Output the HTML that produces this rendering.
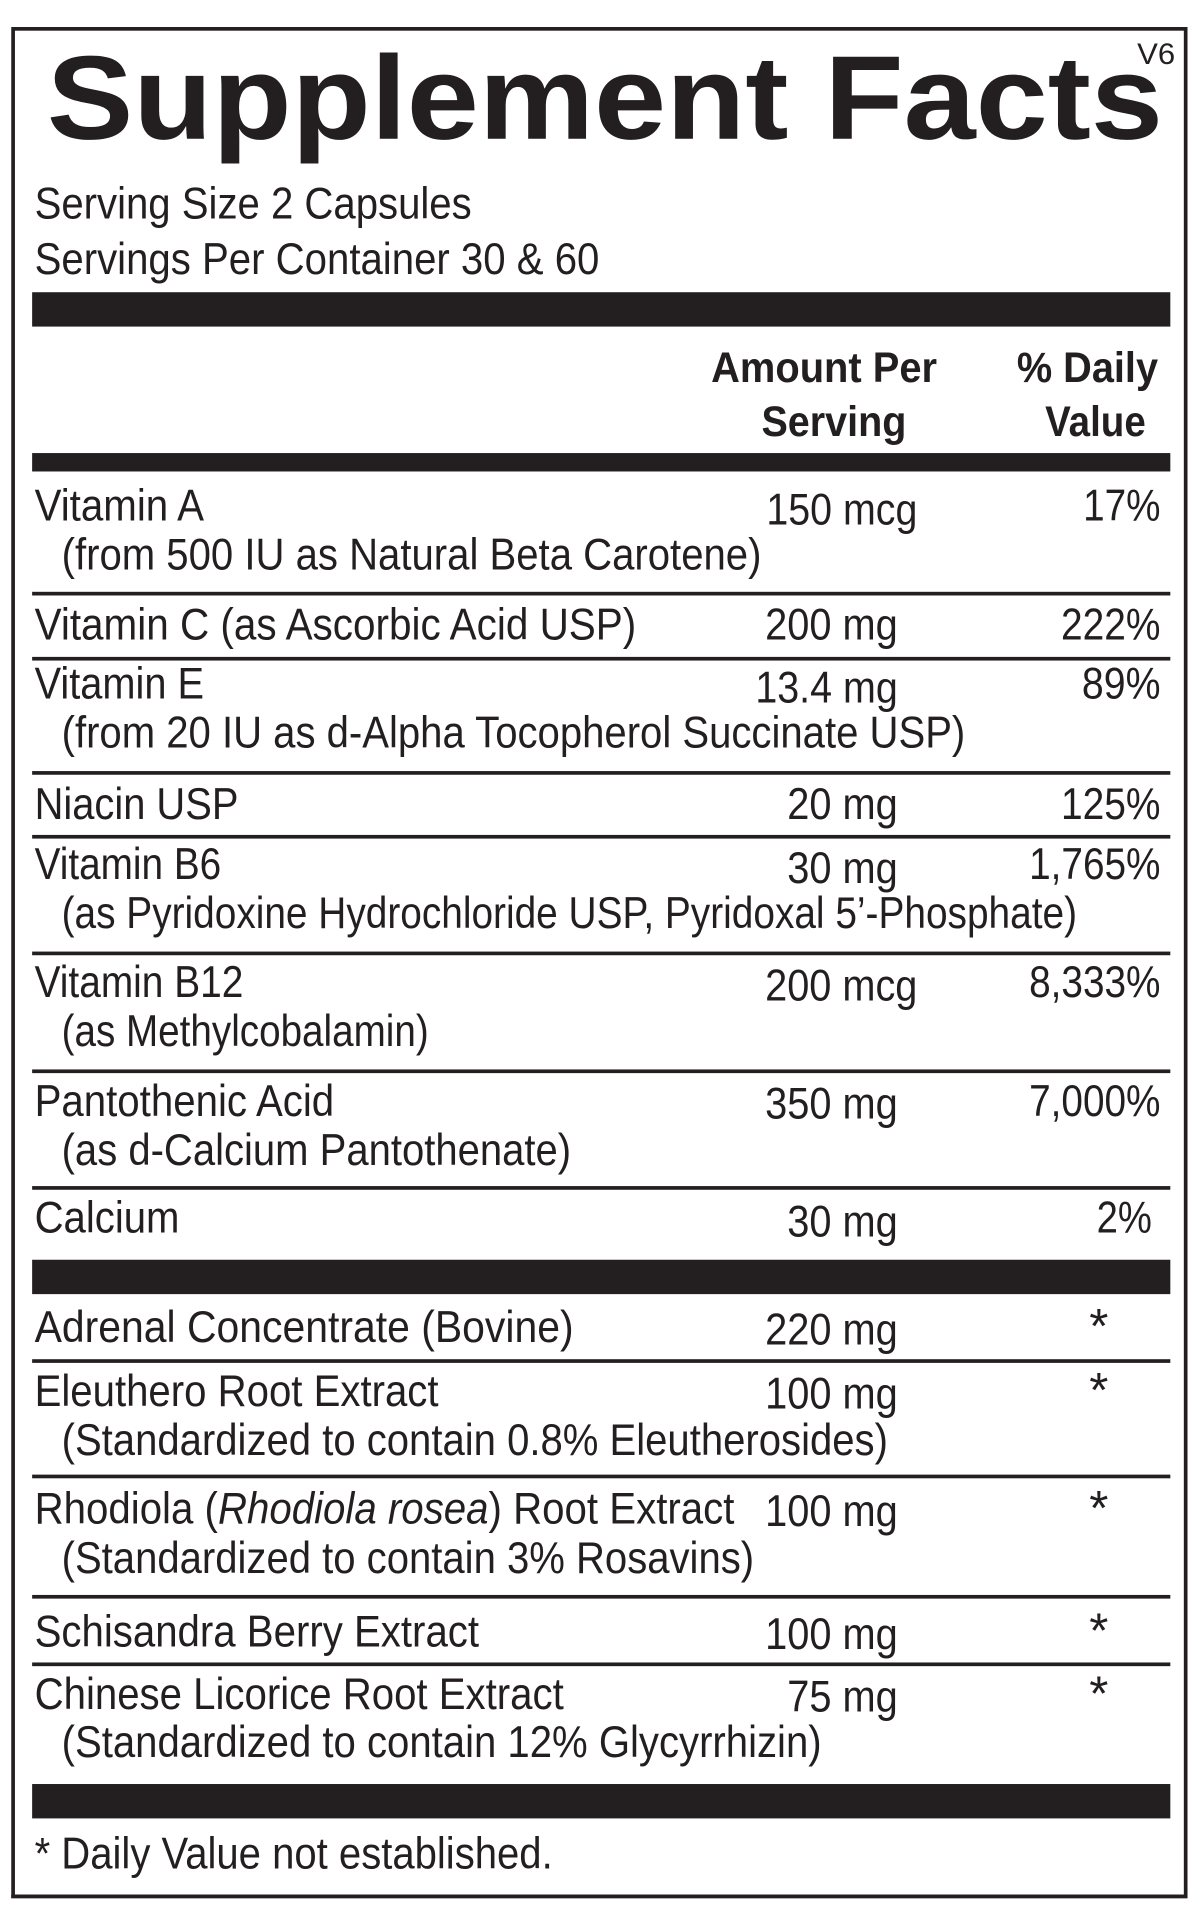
<!DOCTYPE html>
<html><head><meta charset="utf-8"><style>html,body{margin:0;padding:0;background:#fff}svg{display:block}</style></head>
<body>
<svg width="1200" height="1924" viewBox="0 0 977 1567" xmlns="http://www.w3.org/2000/svg" font-family="Liberation Sans, Arial, sans-serif" fill="#231f20">
<rect x="0" y="0" width="977" height="1567" fill="#fff"/>
<rect x="10.5" y="23.5" width="955" height="1521" fill="none" stroke="#231f20" stroke-width="3"/>
<rect x="9" y="1543" width="958" height="3" fill="#231f20"/>
<text x="926" y="52" font-size="24" textLength="31" lengthAdjust="spacingAndGlyphs">V6</text>
<text x="38" y="113" font-size="97" font-weight="bold" textLength="909" lengthAdjust="spacingAndGlyphs">Supplement Facts</text>
<g font-size="36">
<text x="28" y="178" textLength="356" lengthAdjust="spacingAndGlyphs">Serving Size 2 Capsules</text>
<text x="28" y="223" textLength="460" lengthAdjust="spacingAndGlyphs">Servings Per Container 30 &amp; 60</text>
</g>
<rect x="26" y="238" width="927" height="28"/>
<g font-size="35" font-weight="bold">
<text x="579" y="311" textLength="184" lengthAdjust="spacingAndGlyphs">Amount Per</text>
<text x="620" y="355" textLength="118" lengthAdjust="spacingAndGlyphs">Serving</text>
<text x="828" y="311" textLength="115" lengthAdjust="spacingAndGlyphs">% Daily</text>
<text x="851" y="355" textLength="82" lengthAdjust="spacingAndGlyphs">Value</text>
</g>
<rect x="26" y="369" width="927" height="15"/>
<g fill="#231f20">
<rect x="26" y="482" width="927" height="3"/>
<rect x="26" y="535" width="927" height="3"/>
<rect x="26" y="628" width="927" height="3"/>
<rect x="26" y="680" width="927" height="3"/>
<rect x="26" y="775" width="927" height="3"/>
<rect x="26" y="871" width="927" height="3"/>
<rect x="26" y="966" width="927" height="3"/>
<rect x="26" y="1026" width="927" height="28"/>
<rect x="26" y="1107" width="927" height="3"/>
<rect x="26" y="1201" width="927" height="3"/>
<rect x="26" y="1299" width="927" height="3"/>
<rect x="26" y="1354" width="927" height="3"/>
<rect x="26" y="1453" width="927" height="28"/>
</g>
<g font-size="36">
<text x="28" y="424" textLength="138" lengthAdjust="spacingAndGlyphs">Vitamin A</text>
<text x="624" y="427" textLength="123" lengthAdjust="spacingAndGlyphs">150 mcg</text>
<text x="882" y="424" textLength="63" lengthAdjust="spacingAndGlyphs">17%</text>
<text x="50" y="464" textLength="570" lengthAdjust="spacingAndGlyphs">(from 500 IU as Natural Beta Carotene)</text>

<text x="28" y="521" textLength="490" lengthAdjust="spacingAndGlyphs">Vitamin C (as Ascorbic Acid USP)</text>
<text x="623" y="521" textLength="108" lengthAdjust="spacingAndGlyphs">200 mg</text>
<text x="864" y="521" textLength="81" lengthAdjust="spacingAndGlyphs">222%</text>

<text x="28" y="569" textLength="138" lengthAdjust="spacingAndGlyphs">Vitamin E</text>
<text x="615" y="572" textLength="116" lengthAdjust="spacingAndGlyphs">13.4 mg</text>
<text x="881" y="569" textLength="64" lengthAdjust="spacingAndGlyphs">89%</text>
<text x="50" y="609" textLength="736" lengthAdjust="spacingAndGlyphs">(from 20 IU as d-Alpha Tocopherol Succinate USP)</text>

<text x="28" y="667" textLength="166" lengthAdjust="spacingAndGlyphs">Niacin USP</text>
<text x="641" y="667" textLength="90" lengthAdjust="spacingAndGlyphs">20 mg</text>
<text x="864" y="667" textLength="81" lengthAdjust="spacingAndGlyphs">125%</text>

<text x="28" y="716" textLength="152" lengthAdjust="spacingAndGlyphs">Vitamin B6</text>
<text x="641" y="719" textLength="90" lengthAdjust="spacingAndGlyphs">30 mg</text>
<text x="838" y="716" textLength="107" lengthAdjust="spacingAndGlyphs">1,765%</text>
<text x="50" y="756" textLength="827" lengthAdjust="spacingAndGlyphs">(as Pyridoxine Hydrochloride USP, Pyridoxal 5’-Phosphate)</text>

<text x="28" y="812" textLength="170" lengthAdjust="spacingAndGlyphs">Vitamin B12</text>
<text x="623" y="815" textLength="124" lengthAdjust="spacingAndGlyphs">200 mcg</text>
<text x="838" y="812" textLength="107" lengthAdjust="spacingAndGlyphs">8,333%</text>
<text x="50" y="852" textLength="299" lengthAdjust="spacingAndGlyphs">(as Methylcobalamin)</text>

<text x="28" y="909" textLength="244" lengthAdjust="spacingAndGlyphs">Pantothenic Acid</text>
<text x="623" y="911" textLength="108" lengthAdjust="spacingAndGlyphs">350 mg</text>
<text x="838" y="909" textLength="107" lengthAdjust="spacingAndGlyphs">7,000%</text>
<text x="50" y="949" textLength="415" lengthAdjust="spacingAndGlyphs">(as d-Calcium Pantothenate)</text>

<text x="28" y="1004" textLength="118" lengthAdjust="spacingAndGlyphs">Calcium</text>
<text x="641" y="1007" textLength="90" lengthAdjust="spacingAndGlyphs">30 mg</text>
<text x="893" y="1004" textLength="45" lengthAdjust="spacingAndGlyphs">2%</text>

<text x="28" y="1093" textLength="439" lengthAdjust="spacingAndGlyphs">Adrenal Concentrate  (Bovine)</text>
<text x="623" y="1095" textLength="108" lengthAdjust="spacingAndGlyphs">220 mg</text>

<text x="28" y="1145" textLength="329" lengthAdjust="spacingAndGlyphs">Eleuthero Root Extract</text>
<text x="623" y="1147" textLength="108" lengthAdjust="spacingAndGlyphs">100 mg</text>
<text x="50" y="1185" textLength="673" lengthAdjust="spacingAndGlyphs">(Standardized to contain 0.8% Eleutherosides)</text>

<text x="28" y="1241" textLength="570" lengthAdjust="spacingAndGlyphs">Rhodiola (<tspan font-style="italic">Rhodiola rosea</tspan>) Root Extract</text>
<text x="623" y="1243" textLength="108" lengthAdjust="spacingAndGlyphs">100 mg</text>
<text x="50" y="1281" textLength="564" lengthAdjust="spacingAndGlyphs">(Standardized to contain 3% Rosavins)</text>

<text x="28" y="1341" textLength="362" lengthAdjust="spacingAndGlyphs">Schisandra Berry Extract</text>
<text x="623" y="1343" textLength="108" lengthAdjust="spacingAndGlyphs">100 mg</text>

<text x="28" y="1392" textLength="431" lengthAdjust="spacingAndGlyphs">Chinese Licorice Root Extract</text>
<text x="641" y="1394" textLength="90" lengthAdjust="spacingAndGlyphs">75 mg</text>
<text x="50" y="1431" textLength="619" lengthAdjust="spacingAndGlyphs">(Standardized to contain 12% Glycyrrhizin)</text>

<text x="28" y="1522" textLength="422" lengthAdjust="spacingAndGlyphs">* Daily Value not established.</text>
</g>
<g font-size="40">
<text x="887" y="1094">*</text>
<text x="887" y="1146">*</text>
<text x="887" y="1242">*</text>
<text x="887" y="1342">*</text>
<text x="887" y="1393">*</text>
</g>
</svg>
</body></html>
